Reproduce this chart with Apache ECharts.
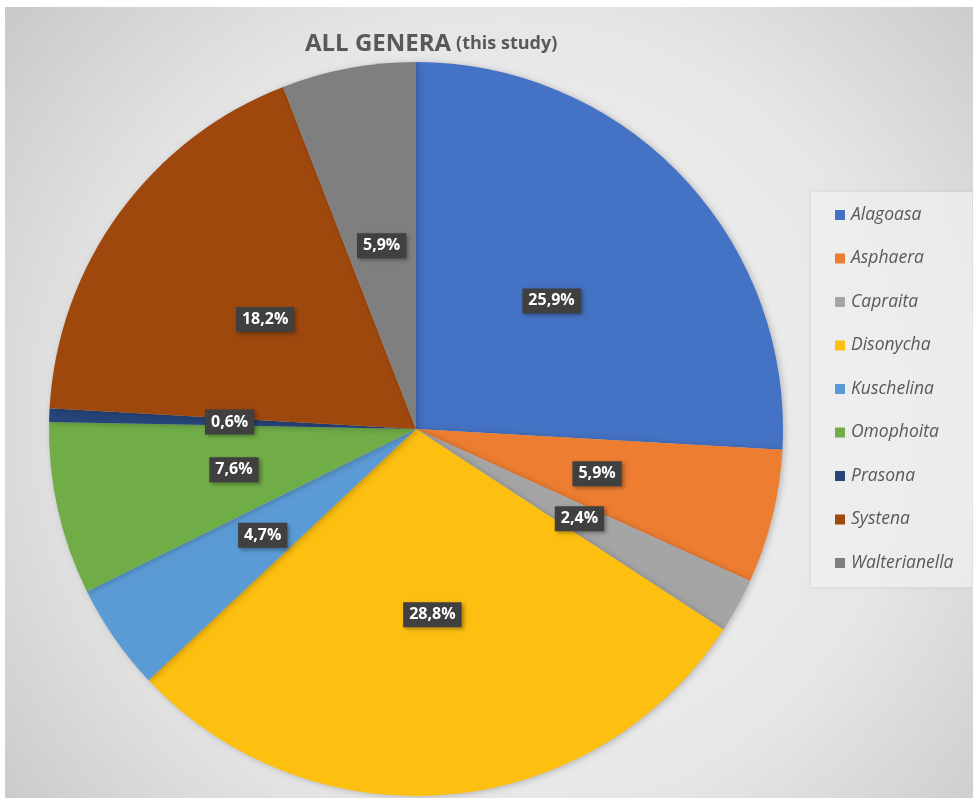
<!DOCTYPE html>
<html>
<head>
<meta charset="utf-8">
<title>ALL GENERA (this study)</title>
<script src="https://cdn.jsdelivr.net/npm/echarts@6/dist/echarts.min.js"></script>
<style>
  html, body { margin: 0; padding: 0; background: #ffffff; }
  #chart { width: 973px; height: 798px; }
</style>
</head>
<body>
<div id="chart"></div>
<script>
// Genera and their share of all specimens (%)
const genera = ['Alagoasa', 'Asphaera', 'Capraita', 'Disonycha', 'Kuschelina',
                'Omophoita', 'Prasona', 'Systena', 'Walterianella'];
const shares = [25.9, 5.9, 2.4, 28.8, 4.7, 7.6, 0.6, 18.2, 5.9];
const palette = ['#4472C4', '#ED7D31', '#A5A5A5', '#FDC010', '#5B9BD5',
                 '#70AD47', '#264478', '#9E480E', '#7F7F7F'];

const chart = echarts.init(document.getElementById('chart'), null, { renderer: 'canvas' });

const fmt = v => v.toFixed(1).replace('.', ',') + '%';

chart.setOption({
  backgroundColor: '#ffffff',
  animation: false,
  color: palette,
  graphic: [{
    type: 'rect',
    z: -10,
    silent: true,
    shape: { x: 5, y: 7, width: 968, height: 791 },
    style: {
      fill: {
        type: 'radial', x: 0.52, y: 0.52, r: 0.85,
        colorStops: [
          { offset: 0, color: '#f6f6f6' },
          { offset: 0.6, color: '#e6e6e6' },
          { offset: 1, color: '#c6c6c6' }
        ]
      }
    }
  }],
  title: {
    text: '{a|ALL GENERA} {b|(this study)}',
    left: 300,
    top: 27,
    textStyle: {
      rich: {
        a: { fontFamily: 'Open Sans', fontWeight: 'bold', fontSize: 24, color: '#595959' },
        b: { fontFamily: 'Open Sans', fontWeight: 'bold', fontSize: 18, color: '#595959' }
      }
    }
  },
  legend: {
    orient: 'vertical',
    left: 811,
    top: 192,
    padding: [14, 19, 15, 24],
    backgroundColor: 'rgba(246,246,246,0.75)',
    shadowColor: 'rgba(0,0,0,0.12)',
    shadowBlur: 4,
    icon: 'rect',
    itemWidth: 10,
    itemHeight: 10,
    itemGap: 25.5,
    selectedMode: false,
    data: genera,
    textStyle: {
      fontFamily: 'Open Sans',
      fontStyle: 'italic',
      fontSize: 17.5,
      lineHeight: 18,
      color: '#595959',
      padding: [0, 0, 0, 1]
    }
  },
  series: [{
    type: 'pie',
    center: [416, 429],
    radius: ['0%', 367],
    startAngle: 90,
    clockwise: true,
    avoidLabelOverlap: false,
    data: genera.map((g, i) => ({ name: g, value: shares[i] })),
    itemStyle: {
      borderWidth: 0,
      shadowColor: 'rgba(0,0,0,0.22)',
      shadowBlur: 6,
      shadowOffsetX: 2,
      shadowOffsetY: 1
    },
    emphasis: { disabled: true },
    label: {
      show: true,
      position: 'inside',
      formatter: p => fmt(p.value),
      fontFamily: 'Open Sans',
      fontWeight: 'bold',
      fontSize: 16,
      color: '#ffffff',
      backgroundColor: '#404040',
      padding: [5, 6, 4, 6],
      shadowColor: 'rgba(0,0,0,0.35)',
      shadowBlur: 4,
      shadowOffsetX: 2,
      shadowOffsetY: 2
    },
    labelLine: { show: false }
  }]
});
</script>
</body>
</html>
